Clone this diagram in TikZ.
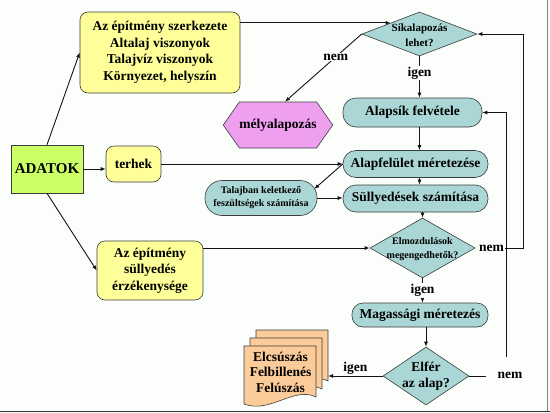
\documentclass[tikz,border=0pt]{standalone}
\usepackage{fontspec}
\setmainfont{Liberation Serif}
\usetikzlibrary{arrows.meta,shapes.geometric,shapes.symbols,calc}
\definecolor{bgc}{RGB}{251,254,251}
\definecolor{yel}{RGB}{255,255,153}
\definecolor{grn}{RGB}{204,255,102}
\definecolor{teal2}{RGB}{170,214,214}
\definecolor{pnk}{RGB}{238,160,238}
\definecolor{org}{RGB}{251,204,153}
\definecolor{lin}{RGB}{20,20,20}
\definecolor{edge}{RGB}{60,60,60}
\begin{document}
\begin{tikzpicture}[x=1pt,y=-1pt,
  font=\bfseries\fontsize{13.5}{16.5}\selectfont,
  ybox/.style={draw=edge, fill=yel, rounded corners=8pt, align=center, inner sep=0pt, line width=0.6pt},
  tbox/.style={draw=edge, fill=teal2, rounded corners=13pt, align=center, inner sep=0pt, line width=0.6pt},
  dia/.style={draw=edge, fill=teal2, diamond, inner sep=0pt, line width=0.6pt},
  arr/.style={draw=lin, line width=0.9pt, -{Latex[length=5pt,width=4pt]}},
  ln/.style={draw=lin, line width=0.9pt},
  lab/.style={fill=bgc, inner sep=1pt},
  docpage/.pic={\path[draw=edge, fill=org, line width=0.6pt] (0,0) -- (72,0) -- (72,51) .. controls (50,40) and (26,68) .. (0,58) -- cycle;},
]
\fill[bgc] (0,0) rectangle (550,413);
\useasboundingbox (0,0) rectangle (550,413);
\draw[gray, line width=1pt] (547,0) -- (547,412);
\draw[black!80, line width=1.5pt] (0,411.5) -- (550,411.5);

% left side
\node[ybox, minimum width=160pt, minimum height=81pt] (top) at (160,52.5) {Az építmény szerkezete\\Altalaj viszonyok\\Talajvíz viszonyok\\Környezet, helyszín};
\node[draw=edge, fill=grn, minimum width=72pt, minimum height=48pt, inner sep=0pt, line width=0.6pt, font=\bfseries\fontsize{15}{18}\selectfont] (adat) at (47,169) {ADATOK};
\node[ybox, minimum width=55pt, minimum height=36pt] (terh) at (133.5,164) {terhek};
\node[ybox, minimum width=106pt, minimum height=59pt] (bot) at (150,270.5) {Az építmény\\süllyedés\\érzékenysége};

% spine
\node[dia, minimum width=115pt, minimum height=44pt] (d1) at (419.5,34) {};
\node[font=\bfseries\fontsize{11}{15}\selectfont, align=center] (d1t) at (419.5,35) {Síkalapozás\\lehet?};
\node[shape=signal, signal to=east and west, signal pointer angle=110, draw=edge, fill=pnk, line width=0.6pt, minimum width=94pt, minimum height=46pt, inner sep=0pt] (hexa) at (278,125) {mélyalapozás};
\node[tbox, minimum width=139pt, minimum height=29pt] (alps) at (412.5,112.5) {Alapsík felvétele};
\node[tbox, minimum width=145pt, minimum height=27pt] (alf) at (415.5,164) {Alapfelület méretezése};
\node[tbox, minimum width=145pt, minimum height=27pt] (sull) at (415.5,198.5) {Süllyedések számítása};
\node[tbox, rounded corners=17pt, minimum width=112pt, minimum height=35pt, font=\bfseries\fontsize{10}{13}\selectfont] (tal) at (261,198) {Talajban keletkező\\feszültségek számítása};
\node[dia, minimum width=105pt, minimum height=60pt] (d2) at (422.5,248) {};
\node[font=\bfseries\fontsize{10}{14}\selectfont, align=center] (d2t) at (422.5,249) {Elmozdulások\\megengedhetők?};
\node[tbox, rounded corners=11pt, minimum width=136pt, minimum height=24pt] (mag) at (420,315) {Magassági méretezés};
\node[dia, minimum width=86pt, minimum height=58pt] (d3) at (426,376) {};
\node[align=center] (d3t) at (426,376) {Elfér\\az alap?};

% document stack
\pic at (256,330) {docpage};
\pic at (250,338) {docpage};
\pic at (244,346) {docpage};
\node[align=center, font=\bfseries\fontsize{13.5}{15.5}\selectfont] (doc) at (280.5,372) {Elcsúszás\\Felbillenés\\Felúszás};
\coordinate (docR) at (328,376);

% connectors
\draw[arr] (adat.north) -- (top.west);
\draw[arr] (adat.east) -- (adat.east -| terh.west);
\draw[arr] (adat.south) -- (bot.west);
\draw[arr] (top.east |- d1.north west) -- (d1.north west);
\draw[arr] (d1.west) -- ($(hexa.north)+(7,0)$) node[lab, pos=0.34] {nem};
\draw[arr] (d1.south) -- (d1.south |- alps.north) node[lab, pos=0.4] {igen};
\draw[arr] (terh.east) -- (terh.east -| alf.west);
\draw[arr] (alps.south -| d1.south) -- (alf.north -| d1.south);
\draw[arr] (alf.west) -- ($(tal.east)+(-3,-9)$);
\draw[arr] (tal.east) -- (tal.east -| sull.west);
\draw[arr] (alf.south -| d1.south) -- (sull.north -| d1.south);
\draw[arr] (sull.south -| d2.north) -- (d2.north);
\draw[arr] (bot.east |- d2.west) -- (d2.west);
\node[inner sep=1pt] (n1) at (491.5,248) {nem};
\coordinate (c1) at (523,34);
\draw[arr] (n1.east) -| (c1) -- (d1.east);
\draw[arr] (d2.south) -- (d2.south |- mag.north) node[lab, midway] {igen};
\draw[arr] (mag.south -| d3.north) -- (d3.north);
\draw[arr] (d3.west) -- (docR) node[midway, above, inner sep=1pt] {igen};
\coordinate (c2) at (486,376);
\draw[ln] (d3.east) -- (c2);
\node[inner sep=1pt] (n2) at (510,375) {nem};
\coordinate (c3) at (506,357);
\draw[arr] (c3) |- (alps.east);
\end{tikzpicture}
\end{document}
